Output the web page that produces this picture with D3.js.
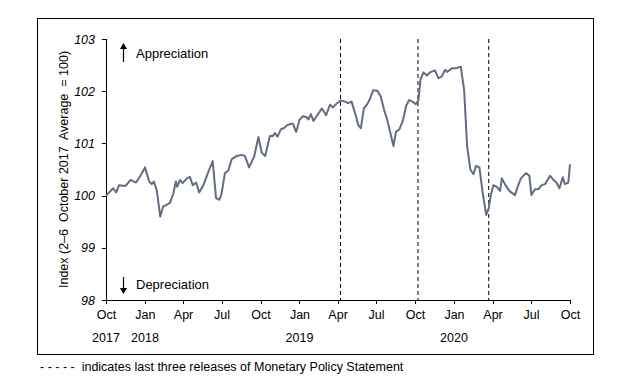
<!doctype html>
<html>
<head>
<style>
    body { margin: 0; background: #fff; }
    svg { font-family: "Liberation Sans", Arial, sans-serif; }
    .axis path, .axis line { stroke: #000; shape-rendering: crispEdges; }
    .axis text { font-size: 12.5px; fill: #000; }
    .yaxis text { font-style: italic; }
</style>
<script src="https://d3js.org/d3.v7.min.js"></script>
</head>
<body>
<svg width="639" height="385"></svg>
<script>

// weekly index readings (2-6 October 2017 average = 100)
var dates = [
    "2017-10-01","2017-10-18","2017-10-25","2017-11-01","2017-11-11","2017-11-17","2017-11-28",
    "2017-12-11","2017-12-20","2018-01-01","2018-01-11","2018-01-17","2018-01-22","2018-01-29",
    "2018-02-06","2018-02-13","2018-02-25","2018-03-01","2018-03-09","2018-03-15","2018-03-18",
    "2018-03-25","2018-03-31","2018-04-10","2018-04-17","2018-04-24","2018-05-02","2018-05-09",
    "2018-05-19","2018-05-31","2018-06-10","2018-06-18","2018-06-26","2018-07-01","2018-07-09",
    "2018-07-17","2018-07-25","2018-08-06","2018-08-18","2018-08-25","2018-09-04","2018-09-16",
    "2018-09-26","2018-10-04","2018-10-12","2018-10-23","2018-10-30","2018-11-04","2018-11-10",
    "2018-11-18","2018-11-25","2018-12-03","2018-12-14","2018-12-17","2018-12-24","2019-01-01",
    "2019-01-09","2019-01-18","2019-01-22","2019-01-28","2019-02-03","2019-02-12","2019-02-23",
    "2019-03-05","2019-03-14","2019-03-21","2019-03-28","2019-04-08","2019-04-19","2019-04-26",
    "2019-05-04","2019-05-12","2019-05-20","2019-05-26","2019-06-02","2019-06-10","2019-06-17",
    "2019-06-24","2019-07-04","2019-07-12","2019-07-20","2019-07-27","2019-08-04","2019-08-11",
    "2019-08-17","2019-08-25","2019-09-02","2019-09-10","2019-09-17","2019-09-25","2019-10-03",
    "2019-10-09","2019-10-14","2019-10-21","2019-10-29","2019-11-05","2019-11-17","2019-11-25",
    "2019-12-03","2019-12-11","2019-12-16","2019-12-27","2020-01-06","2020-01-17","2020-01-25",
    "2020-02-01","2020-02-09","2020-02-16","2020-02-22","2020-03-01","2020-03-09","2020-03-17",
    "2020-03-23","2020-03-28","2020-04-03","2020-04-12","2020-04-19","2020-04-23","2020-05-03",
    "2020-05-12","2020-05-24","2020-05-30","2020-06-07","2020-06-19","2020-06-27","2020-07-02",
    "2020-07-10","2020-07-18","2020-07-26","2020-08-03","2020-08-15","2020-08-22","2020-08-30",
    "2020-09-06","2020-09-14","2020-09-19","2020-09-27","2020-10-01"
];
var values = [
    100.00,100.14,100.06,100.20,100.19,100.19,100.30,
    100.25,100.36,100.54,100.27,100.22,100.27,100.10,
    99.60,99.79,99.84,99.86,100.04,100.27,100.17,
    100.30,100.24,100.33,100.36,100.20,100.25,100.06,
    100.20,100.46,100.66,99.95,99.92,100.04,100.43,
    100.48,100.70,100.76,100.78,100.76,100.54,100.75,
    101.12,100.82,100.76,101.14,101.14,101.20,101.13,
    101.27,101.29,101.35,101.38,101.37,101.22,101.45,
    101.52,101.50,101.46,101.56,101.43,101.54,101.67,
    101.54,101.74,101.69,101.75,101.82,101.80,101.77,
    101.80,101.59,101.35,101.29,101.67,101.75,101.86,
    102.02,102.01,101.90,101.64,101.46,101.19,100.95,
    101.22,101.27,101.43,101.72,101.83,101.80,101.75,
    101.83,102.23,102.36,102.30,102.36,102.40,102.25,
    102.28,102.41,102.37,102.44,102.44,102.47,102.02,
    100.94,100.49,100.41,100.57,100.54,100.04,99.63,
    99.76,100.01,100.20,100.16,100.09,100.33,100.18,
    100.08,100.01,100.16,100.33,100.43,100.38,100.01,
    100.12,100.12,100.20,100.22,100.38,100.31,100.25,
    100.14,100.35,100.22,100.25,100.60
];

// Monetary Policy Statement releases
var mpsDates = ["2019-04-08", "2019-10-08", "2020-03-23"];

var yTicks = [98, 99, 100, 101, 102, 103];
var yearLabelDates = ["2017-10-01", "2018-01-01", "2019-01-01", "2020-01-01"];
var yearLabels = ["2017", "2018", "2019", "2020"];

var parse = d3.timeParse("%Y-%m-%d");

var svg = d3.select("svg");
var plotLeft = 106, plotRight = 570, plotTop = 39, plotBottom = 300;

// outer frame
svg.append("rect")
   .attr("x", 37.5).attr("y", 18.5)
   .attr("width", 556).attr("height", 336)
   .attr("fill", "none")
   .attr("stroke", "#000")
   .attr("stroke-width", 1);

var x = d3.scaleTime()
    .domain([parse("2017-10-01"), parse("2020-10-01")])
    .range([plotLeft, plotRight]);
var y = d3.scaleLinear().domain([98, 103]).range([plotBottom, plotTop]);

// x axis
svg.append("g")
   .attr("class", "axis")
   .attr("transform", "translate(0," + plotBottom + ")")
   .call(d3.axisBottom(x)
        .ticks(d3.timeMonth.every(3))
        .tickFormat(d3.timeFormat("%b"))
        .tickSize(4)
        .tickPadding(6));

// year row
svg.append("g")
   .selectAll("text")
   .data(yearLabelDates)
   .enter().append("text")
   .attr("x", function(d) { return x(parse(d)); })
   .attr("y", 341.5)
   .attr("text-anchor", "middle")
   .attr("font-size", "12.5px")
   .text(function(d, i) { return yearLabels[i]; });

// y axis
svg.append("g")
   .attr("class", "axis yaxis")
   .attr("transform", "translate(" + plotLeft + ",0)")
   .call(d3.axisLeft(y).tickValues(yTicks).tickFormat(d3.format("d"))
        .tickSize(4).tickPadding(7));

svg.append("text")
   .attr("transform", "translate(68," + ((plotTop + plotBottom) / 2) + ") rotate(-90)")
   .attr("text-anchor", "middle")
   .attr("font-size", "12.5px")
   .attr("xml:space", "preserve")
   .text("Index (2\u20136  October 2017  Average  = 100)");

// MPS dashed lines
svg.append("g")
   .selectAll("line")
   .data(mpsDates)
   .enter().append("line")
   .attr("x1", function(d) { return x(parse(d)); })
   .attr("x2", function(d) { return x(parse(d)); })
   .attr("y1", plotTop)
   .attr("y2", plotBottom)
   .attr("stroke", "#000")
   .attr("stroke-width", 1)
   .attr("stroke-dasharray", "4,3");

// index line
var line = d3.line()
    .x(function(d, i) { return x(parse(dates[i])); })
    .y(function(d) { return y(d); });

svg.append("path")
   .datum(values)
   .attr("fill", "none")
   .attr("stroke", "#646b86")
   .attr("stroke-width", 2)
   .attr("stroke-linejoin", "round")
   .attr("d", line);

// appreciation / depreciation arrows
function arrow(x0, yTail, yHead) {
    var dir = yHead < yTail ? 1 : -1;
    svg.append("line")
       .attr("x1", x0).attr("x2", x0)
       .attr("y1", yTail).attr("y2", yHead + dir * 4)
       .attr("stroke", "#000").attr("stroke-width", 1.2);
    svg.append("path")
       .attr("d", "M" + (x0 - 3.5) + "," + (yHead + dir * 6) + "L" + x0 + "," + yHead +
                  "L" + (x0 + 3.5) + "," + (yHead + dir * 6) + "Z")
       .attr("fill", "#000");
}
arrow(123.5, 62, 43);
arrow(123.5, 277, 294);

svg.append("text")
   .attr("x", 136).attr("y", 57.5)
   .attr("font-size", "13px")
   .text("Appreciation");
svg.append("text")
   .attr("x", 136).attr("y", 289)
   .attr("font-size", "13px")
   .text("Depreciation");

// footnote
svg.append("text")
   .attr("x", 40).attr("y", 371)
   .attr("font-size", "12.5px")
   .attr("xml:space", "preserve")
   .text("- - - - -  indicates last three releases of Monetary Policy Statement");

</script>
</body>
</html>
